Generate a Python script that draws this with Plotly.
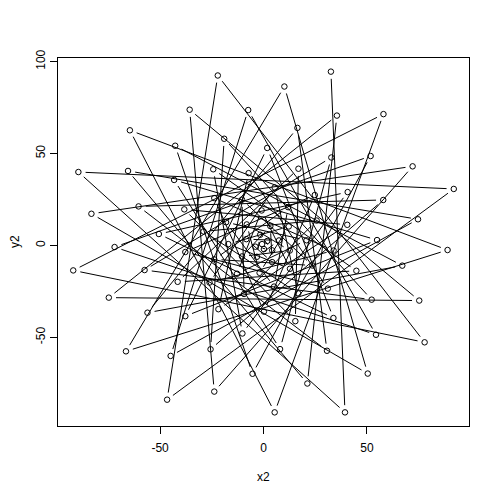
import math
import plotly.graph_objects as go

# values (x2, y2 in plotting order)
x2 = [-0.7, 0.2, 1.8, -3.9, 4.2, -1.6, -3.2, 7.5, -8.3, 4.2, 3.3, -10.4, 12.7, -8.1, -1.9, 12.2, -17.0, 12.8, -0.9, -12.8,
      20.8, -18.1, 5.1, 11.9, -23.8, 23.6, -10.4, -9.4, 25.7, -29.0, 16.8, 5.4, -26.1, 33.9, -23.8, 0.2, 24.8, -37.8, 31.1, -7.2,
      -21.8, 40.5, -38.3, 15.4, 16.9, -41.5, 44.9, -24.3, -10.2, 40.7, -50.6, 33.8, 1.8, -37.8, 54.9, -43.2, 8.0, 32.8, -57.5, 52.3,
      -19.0, -25.6, 57.9, -60.4, 30.7, 16.4, -56.1, 67.1, -42.7, -5.3, 51.8, -72.0, 54.4, -7.4, -44.9, 74.7, -65.5, 21.2, 35.5, -74.8,
      75.3, -35.7, -23.8, 72.1, -83.2, 50.4, 10.1, -66.5, 89.0, -64.6, 5.4, 58.0, -92.0, 77.9, -22.1, -46.6, 92.0, -89.5, 39.4, 32.6]
y2 = [0.7, -2.0, 2.4, -0.7, -2.7, 5.8, -6.2, 2.7, 3.4, -9.1, 10.5, -6.0, -2.8, 11.4, -14.9, 10.3, 0.7, -12.7, 19.0, -15.4,
      2.8, 12.6, -22.4, 20.8, -7.6, -10.9, 24.9, -26.4, 13.5, 7.6, -26.1, 31.5, -20.2, -2.8, 25.7, -36.0, 27.4, -3.6, -23.5, 39.3,
      -34.7, 11.2, 19.6, -41.2, 41.7, -19.8, -13.8, 41.4, -47.9, 29.0, 6.2, -39.5, 53.0, -38.5, 2.9, 35.6, -56.4, 47.8, -13.4, -29.5,
      58.0, -56.5, 24.7, 21.2, -57.3, 63.9, -36.6, -11.0, 54.2, -69.8, 48.6, -0.9, -48.6, 73.6, -60.1, 14.2, 40.5, -75.1, 70.6, -28.4,
      -30.0, 73.8, -79.5, 43.0, 17.2, -69.7, 86.4, -57.6, -2.5, 62.6, -90.8, 71.4, -13.6, -52.7, 92.4, -83.9, 30.7, 39.9, -90.8, 94.5]
x_ticks = [-50, 0, 50]
y_ticks = [-50, 0, 50, 100]

# the page body adds an 8px margin, so the figure is drawn slightly smaller
W, H = 492, 491
ML, MR, MT, MB = 50, 31, 50, 73
FONT = "Liberation Sans, Arial, sans-serif"

def padded(v):
    lo, hi = min(v), max(v)
    d = 0.04 * (hi - lo)
    return [lo - d, hi + d]

xr = padded(x2)
yr = padded(y2)
sx = (W - ML - MR) / (xr[1] - xr[0])
sy = (H - MT - MB) / (yr[1] - yr[0])

# type="b" style: segments with gaps around each point
GAP = 7.2  # pixels
lx, ly = [], []
for i in range(len(x2) - 1):
    dxp = (x2[i + 1] - x2[i]) * sx
    dyp = (y2[i + 1] - y2[i]) * sy
    L = math.hypot(dxp, dyp)
    if L == 0:
        continue
    f = GAP / L
    if f < 0.5:
        ddx = x2[i + 1] - x2[i]
        ddy = y2[i + 1] - y2[i]
        lx += [x2[i] + f * ddx, x2[i + 1] - f * ddx, None]
        ly += [y2[i] + f * ddy, y2[i + 1] - f * ddy, None]

fig = go.Figure()
fig.add_trace(go.Scatter(x=lx, y=ly, mode="lines", line=dict(color="black", width=1),
                         hoverinfo="skip", showlegend=False))
fig.add_trace(go.Scatter(x=x2, y=y2, mode="markers",
                         marker=dict(symbol="circle-open", size=5.5, color="black", line=dict(width=1, color="black")),
                         showlegend=False))

axis_common = dict(showline=True, mirror=True, linecolor="black", linewidth=1,
                   ticks="outside", ticklen=7, tickwidth=1, tickcolor="black",
                   showgrid=False, zeroline=False,
                   tickfont=dict(family=FONT, size=12, color="black"))
fig.update_xaxes(range=xr, tickvals=x_ticks, ticktext=[str(v) for v in x_ticks],
                 ticklabelstandoff=4, **axis_common)
fig.update_yaxes(range=yr, tickvals=y_ticks, ticktext=[str(v) for v in y_ticks], tickangle=-90, **axis_common)

fig.add_annotation(text="x2", xref="paper", yref="paper", x=0.5, y=0, yshift=-51,
                   xanchor="center", yanchor="middle", showarrow=False,
                   font=dict(family=FONT, size=12, color="black"))
fig.add_annotation(text="y2", xref="paper", yref="paper", x=0, y=0.5, xshift=-43,
                   xanchor="center", yanchor="middle", textangle=-90, showarrow=False,
                   borderpad=0, font=dict(family=FONT, size=12, color="black"))

fig.update_layout(width=W, height=H, margin=dict(l=ML, r=MR, t=MT, b=MB),
                  plot_bgcolor="white", paper_bgcolor="white",
                  font=dict(family=FONT, size=12, color="black"))
fig.write_html("out.html")
